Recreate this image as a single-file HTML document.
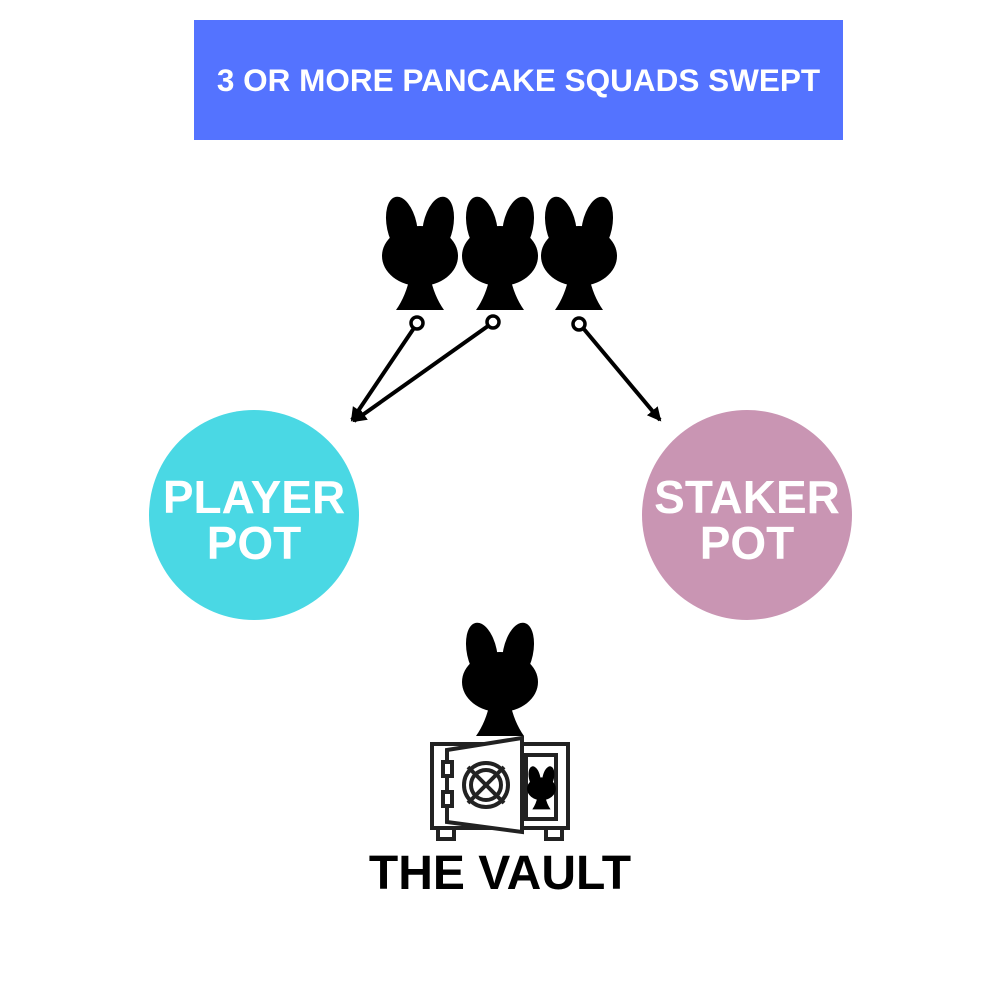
<!DOCTYPE html>
<html><head><style>
body{margin:0;width:1000px;height:1000px;background:#fff;position:relative;font-family:"Liberation Sans",sans-serif;overflow:hidden}
.banner{position:absolute;left:188px;top:20px;width:661px;height:120px;background:#5473ff;color:#fff;font-weight:bold;font-size:31.5px;display:flex;align-items:center;justify-content:center}
.bg{position:absolute;left:194px;top:20px;width:649px;height:120px;background:#5473ff}
.c{position:absolute;width:210px;height:210px;border-radius:50%;color:#fff;font-weight:bold;font-size:46px;line-height:46px;display:flex;align-items:center;justify-content:center;text-align:center;padding-top:10px;box-sizing:border-box}
.v{position:absolute;left:0;width:1000px;top:846px;text-align:center;font-weight:bold;font-size:48px;color:#000}
</style></head><body>
<div class="bg"></div>
<div class="banner" style="background:transparent">3 OR MORE PANCAKE SQUADS SWEPT</div>
<div class="c" style="left:149px;top:410px;background:#4ad8e4">PLAYER<br>POT</div>
<div class="c" style="left:642px;top:410px;background:#c995b3">STAKER<br>POT</div>
<svg width="1000" height="1000" style="position:absolute;left:0;top:0">
<defs>
<g id="b">
<ellipse cx="22" cy="30" rx="15" ry="30" transform="rotate(-12 22 40)"/>
<ellipse cx="54" cy="30" rx="15" ry="30" transform="rotate(12 54 40)"/>
<ellipse cx="38" cy="60" rx="38" ry="30"/>
<path d="M14 114 Q24 100 28 80 L48 80 Q52 100 62 114 Z"/>
</g>
<marker id="a" markerWidth="16" markerHeight="16" refX="12" refY="8" orient="auto" markerUnits="userSpaceOnUse"><path d="M0,1 L14,8 L0,15 Z"/></marker>
</defs>
<use href="#b" x="382" y="196"/>
<use href="#b" x="462" y="196"/>
<use href="#b" x="541" y="196"/>
<use href="#b" x="462" y="622"/>
<g stroke="#000" stroke-width="4" fill="none">
<line x1="414" y1="328" x2="352" y2="420" marker-end="url(#a)"/>
<line x1="488" y1="326" x2="354" y2="421" marker-end="url(#a)"/>
<line x1="583" y1="328" x2="660" y2="420" marker-end="url(#a)"/>
</g>
<g stroke="#000" stroke-width="3.5" fill="#fff">
<circle cx="417" cy="323" r="6"/><circle cx="493" cy="322" r="6"/><circle cx="579" cy="324" r="6"/>
</g>
<g stroke="#222" stroke-width="4" fill="#fff">
<rect x="438" y="826" width="16" height="13"/><rect x="546" y="826" width="16" height="13"/>
<rect x="432" y="744" width="136" height="84"/>
<rect x="526" y="755" width="30" height="64"/>
<path d="M447 750 L522 738 L522 832 L447 822 Z"/>
<rect x="443" y="762" width="9" height="14"/><rect x="443" y="792" width="9" height="14"/>
<circle cx="486" cy="785" r="22"/><circle cx="486" cy="785" r="15"/>
<line x1="468" y1="767" x2="504" y2="803"/><line x1="504" y1="767" x2="468" y2="803"/>
</g>
<use href="#b" transform="translate(527,766) scale(0.38)"/>
</svg>
<div class="v">THE VAULT</div>
</body></html>
